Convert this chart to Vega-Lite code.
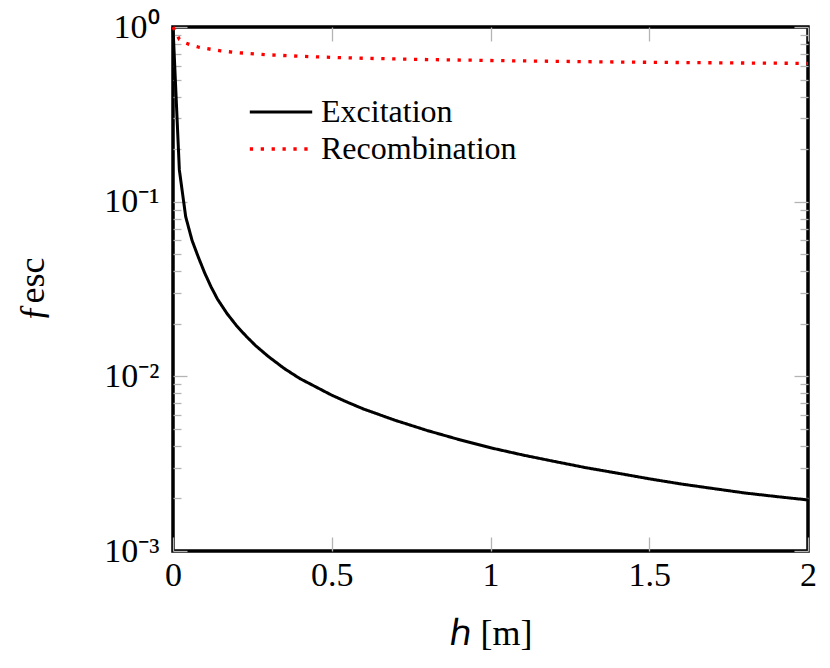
{
  "$schema": "https://vega.github.io/schema/vega-lite/v6.json",
  "width": 635,
  "height": 524,
  "autosize": {"type": "none"},
  "padding": {"left": 173, "top": 27, "right": 22, "bottom": 117},
  "config": {
    "font": "Liberation Serif",
    "view": {"stroke": "black", "strokeWidth": 3.5},
    "axis": {
      "domain": false,
      "grid": false,
      "labelFont": "Liberation Serif",
      "labelFontSize": 34,
      "labelColor": "black",
      "titleFont": "Liberation Serif",
      "titleFontSize": 36,
      "titleFontWeight": "normal",
      "titleColor": "black",
      "tickColor": "#b4b4b4",
      "tickWidth": 1.3
    }
  },
  "data": {
    "values": [
      {"h": 0, "f": 1, "s": "Excitation"},
      {"h": 0.02, "f": 0.152, "s": "Excitation"},
      {"h": 0.04, "f": 0.082, "s": "Excitation"},
      {"h": 0.06, "f": 0.060, "s": "Excitation"},
      {"h": 0.08, "f": 0.048, "s": "Excitation"},
      {"h": 0.1, "f": 0.039, "s": "Excitation"},
      {"h": 0.12, "f": 0.0325, "s": "Excitation"},
      {"h": 0.14, "f": 0.0277, "s": "Excitation"},
      {"h": 0.17, "f": 0.0229, "s": "Excitation"},
      {"h": 0.2, "f": 0.0195, "s": "Excitation"},
      {"h": 0.23, "f": 0.0170, "s": "Excitation"},
      {"h": 0.26, "f": 0.0150, "s": "Excitation"},
      {"h": 0.3, "f": 0.0130, "s": "Excitation"},
      {"h": 0.35, "f": 0.0111, "s": "Excitation"},
      {"h": 0.4, "f": 0.0097, "s": "Excitation"},
      {"h": 0.45, "f": 0.0087, "s": "Excitation"},
      {"h": 0.5, "f": 0.0078, "s": "Excitation"},
      {"h": 0.55, "f": 0.0071, "s": "Excitation"},
      {"h": 0.6, "f": 0.0065, "s": "Excitation"},
      {"h": 0.7, "f": 0.0056, "s": "Excitation"},
      {"h": 0.8, "f": 0.0049, "s": "Excitation"},
      {"h": 0.9, "f": 0.00435, "s": "Excitation"},
      {"h": 1.0, "f": 0.0039, "s": "Excitation"},
      {"h": 1.1, "f": 0.00355, "s": "Excitation"},
      {"h": 1.2, "f": 0.00326, "s": "Excitation"},
      {"h": 1.3, "f": 0.00300, "s": "Excitation"},
      {"h": 1.4, "f": 0.00279, "s": "Excitation"},
      {"h": 1.5, "f": 0.00259, "s": "Excitation"},
      {"h": 1.6, "f": 0.00242, "s": "Excitation"},
      {"h": 1.7, "f": 0.00228, "s": "Excitation"},
      {"h": 1.8, "f": 0.00215, "s": "Excitation"},
      {"h": 1.9, "f": 0.00205, "s": "Excitation"},
      {"h": 2.0, "f": 0.00196, "s": "Excitation"},
      {"h": 0, "f": 1, "s": "Recombination"},
      {"h": 0.02, "f": 0.85, "s": "Recombination"},
      {"h": 0.04, "f": 0.81, "s": "Recombination"},
      {"h": 0.06, "f": 0.785, "s": "Recombination"},
      {"h": 0.08, "f": 0.768, "s": "Recombination"},
      {"h": 0.1, "f": 0.755, "s": "Recombination"},
      {"h": 0.15, "f": 0.73, "s": "Recombination"},
      {"h": 0.2, "f": 0.714, "s": "Recombination"},
      {"h": 0.3, "f": 0.693, "s": "Recombination"},
      {"h": 0.4, "f": 0.680, "s": "Recombination"},
      {"h": 0.5, "f": 0.670, "s": "Recombination"},
      {"h": 0.6, "f": 0.662, "s": "Recombination"},
      {"h": 0.8, "f": 0.651, "s": "Recombination"},
      {"h": 1.0, "f": 0.643, "s": "Recombination"},
      {"h": 1.2, "f": 0.636, "s": "Recombination"},
      {"h": 1.4, "f": 0.630, "s": "Recombination"},
      {"h": 1.6, "f": 0.626, "s": "Recombination"},
      {"h": 1.8, "f": 0.622, "s": "Recombination"},
      {"h": 2.0, "f": 0.619, "s": "Recombination"}
    ]
  },
  "layer": [
    {
      "mark": {"type": "line", "strokeCap": "butt", "strokeJoin": "round"},
      "encoding": {
        "x": {
          "field": "h", "type": "quantitative",
          "scale": {"domain": [0, 2], "nice": false, "zero": false},
          "axis": {"orient": "bottom", "values": [0, 0.5, 1, 1.5, 2], "format": "~g", "tickSize": -14, "labelPadding": 21, "title": "ℎ [m]", "titlePadding": 24, "labelFlush": false}
        },
        "y": {
          "field": "f", "type": "quantitative",
          "scale": {"type": "log", "domain": [0.001, 1], "nice": false},
          "axis": {
            "orient": "left",
            "values": [0.001, 0.002, 0.003, 0.004, 0.005, 0.006, 0.007, 0.008, 0.009, 0.01, 0.02, 0.03, 0.04, 0.05, 0.06, 0.07, 0.08, 0.09, 0.1, 0.2, 0.3, 0.4, 0.5, 0.6, 0.7, 0.8, 0.9, 1],
            "labelExpr": "datum.value == 1 ? '10⁰' : datum.value == 0.1 ? '10⁻¹' : datum.value == 0.01 ? '10⁻²' : datum.value == 0.001 ? '10⁻³' : ''",
            "labelOverlap": false,
            "labelFlush": false,
            "tickSize": {"condition": {"test": "datum.value == 1 || datum.value == 0.1 || datum.value == 0.01 || datum.value == 0.001", "value": -14}, "value": -8},
            "labelPadding": 28,
            "title": "ƒesc",
            "titlePadding": 52
          }
        },
        "color": {
          "field": "s", "type": "nominal",
          "scale": {"domain": ["Excitation", "Recombination"], "range": ["black", "#ff0000"]},
          "legend": {
            "orient": "none", "legendX": 92, "legendY": 69, "title": null, "padding": 0,
            "labelFont": "Liberation Serif", "labelFontSize": 32, "labelColor": "black", "labelLimit": 500,
            "symbolType": "M-5.2,0H5.2", "symbolSize": 144, "symbolStrokeWidth": 3.2,
            "labelOffset": 24, "rowPadding": 5
          }
        },
        "strokeDash": {
          "field": "s", "type": "nominal",
          "scale": {"domain": ["Excitation", "Recombination"], "range": [[1, 0], [3.3, 7.6]]},
          "legend": null
        },
        "strokeWidth": {
          "field": "s", "type": "nominal",
          "scale": {"domain": ["Excitation", "Recombination"], "range": [3, 3.3]},
          "legend": null
        }
      }
    },
    {
      "mark": {"type": "line", "opacity": 0},
      "encoding": {
        "x": {
          "field": "h", "type": "quantitative",
          "axis": {"orient": "top", "values": [0, 0.5, 1, 1.5, 2], "labels": false, "tickSize": -14, "title": null}
        },
        "y": {
          "field": "f", "type": "quantitative",
          "axis": {
            "orient": "right",
            "values": [0.001, 0.002, 0.003, 0.004, 0.005, 0.006, 0.007, 0.008, 0.009, 0.01, 0.02, 0.03, 0.04, 0.05, 0.06, 0.07, 0.08, 0.09, 0.1, 0.2, 0.3, 0.4, 0.5, 0.6, 0.7, 0.8, 0.9, 1],
            "labels": false,
            "tickSize": {"condition": {"test": "datum.value == 1 || datum.value == 0.1 || datum.value == 0.01 || datum.value == 0.001", "value": -14}, "value": -8},
            "title": null
          }
        },
        "detail": {"field": "s", "type": "nominal"}
      }
    }
  ],
  "resolve": {"axis": {"x": "independent", "y": "independent"}}
}
